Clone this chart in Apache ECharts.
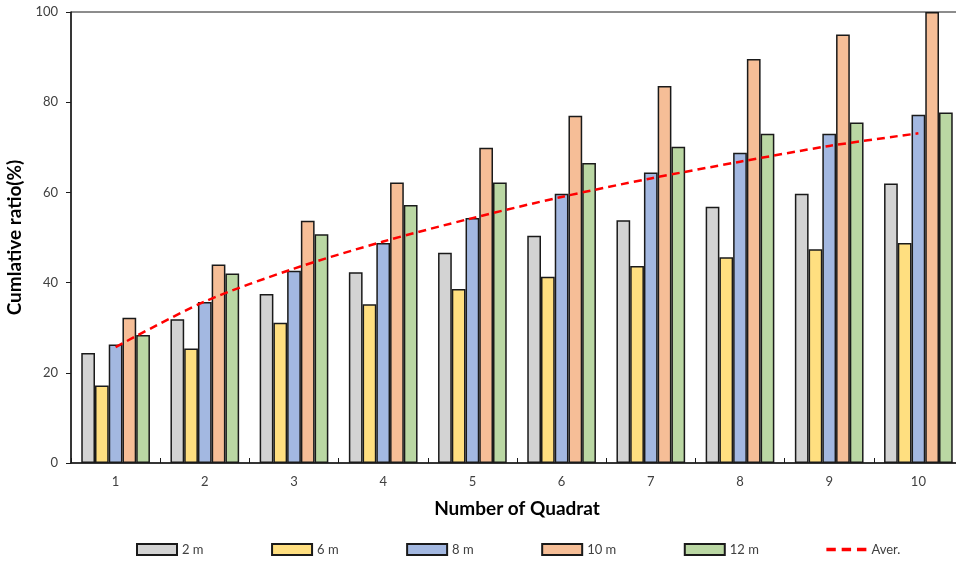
<!DOCTYPE html>
<html><head><meta charset="utf-8">
<script src="https://cdn.jsdelivr.net/npm/echarts@6/dist/echarts.min.js"></script>
<style>html,body{margin:0;padding:0;background:#fff}#c{width:956px;height:562px}</style>
</head><body><div id="c"></div>
<script>
var categories = ['1','2','3','4','5','6','7','8','9','10'];
var s2m  = [24.4, 31.9, 37.5, 42.3, 46.6, 50.4, 53.8, 56.8, 59.7, 62.0];
var s6m  = [17.2, 25.4, 31.1, 35.2, 38.6, 41.3, 43.7, 45.6, 47.4, 48.8];
var s8m  = [26.3, 35.7, 42.6, 48.8, 54.3, 59.7, 64.4, 68.8, 73.0, 77.2];
var s10m = [32.2, 44.0, 53.7, 62.2, 69.9, 77.0, 83.6, 89.6, 95.0, 100.0];
var s12m = [28.4, 42.0, 50.7, 57.2, 62.2, 66.5, 70.1, 73.0, 75.5, 77.7];
var aver = [25.7, 35.8, 43.1, 49.1, 54.3, 59.0, 63.1, 66.8, 70.3, 73.1];
var yTicks = [0, 20, 40, 60, 80, 100];

var font = 'Lato, "Open Sans", sans-serif';
var colors = ['#D3D3D3', '#FFDF80', '#A3B8E1', '#F6BE97', '#BAD7A3'];
var names = ['2 m', '6 m', '8 m', '10 m', '12 m'];
var data = [s2m, s6m, s8m, s10m, s12m];

var series = data.map(function (d, i) {
  return {
    name: names[i], type: 'bar', data: d, barGap: '0%', barCategoryGap: '23%',
    itemStyle: { color: colors[i], borderColor: '#1a1a1a', borderWidth: 1.5 },
    clip: true
  };
});
series.push({
  name: 'Aver.', type: 'line', data: aver, symbol: 'none', showSymbol: false, smooth: 0.3,
  lineStyle: { color: '#FF0000', width: 2.5, type: [8, 5] },
  itemStyle: { color: '#FF0000' }
});

var legendData = names.map(function (n) { return { name: n, icon: 'rect' }; });
legendData.push({
  name: 'Aver.',
  icon: 'path://M0,0h8v3h-8z M13,0h8v3h-8z M26,0h8v3h-8z',
  itemStyle: { color: '#FF0000', borderWidth: 0 }
});

var chart = echarts.init(document.getElementById('c'));
chart.setOption({
  animation: false,
  grid: { left: 71, right: -7, top: 12, bottom: 99, outerBoundsMode: 'none', containLabel: false,
          show: true, borderColor: '#1a1a1a', borderWidth: 1 },
  legend: {
    bottom: 1, left: 131, itemWidth: 40, itemHeight: 11, itemGap: 67.5,
    textStyle: { fontFamily: font, fontSize: 13, color: '#404040' },
    data: legendData
  },
  xAxis: {
    type: 'category', data: categories,
    name: 'Number of Quadrat', nameLocation: 'middle', nameGap: 36,
    nameTextStyle: { fontFamily: font, fontSize: 19, fontWeight: 'bold', color: '#000' },
    axisLine: { lineStyle: { color: '#1a1a1a', width: 1.5 } },
    axisTick: { show: true, inside: true, length: 5, lineStyle: { color: '#1a1a1a' } },
    axisLabel: { fontFamily: font, fontSize: 13, color: '#404040', margin: 12 }
  },
  yAxis: {
    type: 'value', min: 0, max: 100, interval: 20,
    name: 'Cumlative ratio(%)', nameLocation: 'middle', nameGap: 38,
    nameTextStyle: { fontFamily: font, fontSize: 19, fontWeight: 'bold', color: '#000' },
    splitLine: { show: false },
    axisLine: { show: true, lineStyle: { color: '#1a1a1a', width: 1.5 } },
    axisTick: { show: true, length: 5, lineStyle: { color: '#1a1a1a' } },
    axisLabel: { fontFamily: font, fontSize: 13, color: '#404040', margin: 13,
      formatter: function (v) { return yTicks.indexOf(v) >= 0 ? String(v) : ''; } }
  },
  series: series
});
</script></body></html>
